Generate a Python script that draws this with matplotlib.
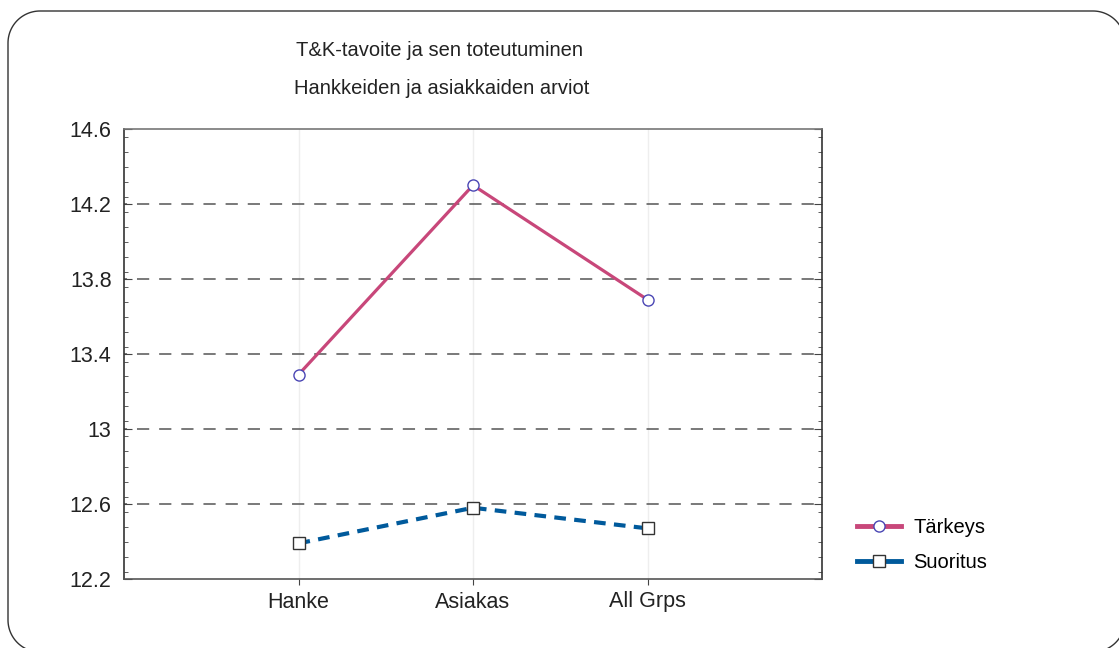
import numpy as np
import matplotlib
matplotlib.use('Agg')
import matplotlib.pyplot as plt
from matplotlib.lines import Line2D
from matplotlib.ticker import MultipleLocator, FixedLocator, FuncFormatter

plt.rcParams['font.family'] = ['Liberation Sans', 'DejaVu Sans']

ryhmat = ['Hanke', 'Asiakas', 'All Grps']
tarkeys = [13.29, 14.30, 13.69]
suoritus = [12.39, 12.58, 12.47]

W, H = 1119, 648
fig = plt.figure(figsize=(W / 100, H / 100), dpi=100)


def pyorea_laatikko(x0, y0, x1, y1, r, n=30):
    # suorakulmio pyoristetyin kulmin, kulmat paloina viivoina
    kulmat = [(x1 - r, y1 - r, 0, 90), (x0 + r, y1 - r, 90, 180),
              (x0 + r, y0 + r, 180, 270), (x1 - r, y0 + r, 270, 360)]
    xs, ys = [], []
    for cx, cy, a0, a1 in kulmat:
        t = np.radians(np.linspace(a0, a1, n))
        xs.extend(cx + r * np.cos(t))
        ys.extend(cy + r * np.sin(t))
    xs.append(xs[0])
    ys.append(ys[0])
    return xs, ys


# taustakerros pikselikoordinaateilla
tausta = fig.add_axes([0, 0, 1, 1], zorder=-1)
tausta.set_xlim(0, W)
tausta.set_ylim(0, H)
tausta.axis('off')
kx, ky = pyorea_laatikko(8, -4, 1125, H - 11, 32)
tausta.plot(kx, ky, color='#333333', linewidth=1.0)

ax = fig.add_axes([124 / W, 1 - 579 / H, (822 - 124) / W, (579 - 129) / H])
x = np.arange(len(ryhmat))

pun = '#C8477A'
sin = '#005A9C'
ax.plot(x, tarkeys, color=pun, linewidth=2.3, marker='o', markersize=8,
        markerfacecolor='white', markeredgecolor='#4A46B4', markeredgewidth=1.0, zorder=3)
ax.plot(x, suoritus, color=sin, linewidth=3, linestyle=(0, (2.8, 2.0)), marker='s', markersize=8,
        markerfacecolor='white', markeredgecolor='#333333', markeredgewidth=1.0, zorder=3)

ax.set_xlim(-1, 3)
ax.set_ylim(12.2, 14.6)
ax.set_xticks(x)
ax.set_xticklabels(ryhmat, fontsize=15.5, color='#222222')
ax.yaxis.set_major_locator(FixedLocator([12.2, 12.6, 13.0, 13.4, 13.8, 14.2, 14.6]))
ax.yaxis.set_minor_locator(MultipleLocator(0.08))
ax.yaxis.set_major_formatter(FuncFormatter(lambda v, p: '%g' % round(v, 1)))
ax.tick_params(axis='y', which='major', labelsize=15.5, labelcolor='#222222', direction='in',
               length=6, right=True, color='#444444', pad=9)
ax.tick_params(axis='y', which='minor', direction='in', length=3, right=True, color='#444444')
ax.tick_params(axis='x', which='major', direction='out', length=4, color='#444444', pad=5)

for v in [12.6, 13.0, 13.4, 13.8, 14.2]:
    ax.axhline(v, color='#555555', linestyle=(6, (8, 6.5)), linewidth=1.1, zorder=1)
for xi in x:
    ax.axvline(xi, color='#EEEEEE', linewidth=1.0, zorder=0)

ax.spines['top'].set_color('#777777')
ax.spines['left'].set_color('#333333')
ax.spines['right'].set_color('#333333')
ax.spines['bottom'].set_color('#555555')
for s in ax.spines.values():
    s.set_linewidth(1.2)

fig.text(440 / W, 1 - 50 / H, 'T&K-tavoite ja sen toteutuminen', ha='center', va='center',
         fontsize=14.5, color='#222222')
fig.text(442 / W, 1 - 88 / H, 'Hankkeiden ja asiakkaiden arviot', ha='center', va='center',
         fontsize=14.5, color='#222222')

# selitteessa viivat ovat yhtenaisia
kahvat = [Line2D([], [], color=pun, linewidth=3.5, marker='o', markersize=8, markerfacecolor='white',
                 markeredgecolor='#4A46B4', markeredgewidth=1.0),
          Line2D([], [], color=sin, linewidth=3.5, marker='s', markersize=8, markerfacecolor='white',
                 markeredgecolor='#333333', markeredgewidth=1.0)]
fig.legend(kahvat, ['Tärkeys', 'Suoritus'], loc='center left', bbox_to_anchor=(839 / W, 1 - 545 / H),
           frameon=False, fontsize=14.5, handlelength=2.2, labelspacing=0.75, handletextpad=0.6)

fig.savefig('out.png', dpi=100)
